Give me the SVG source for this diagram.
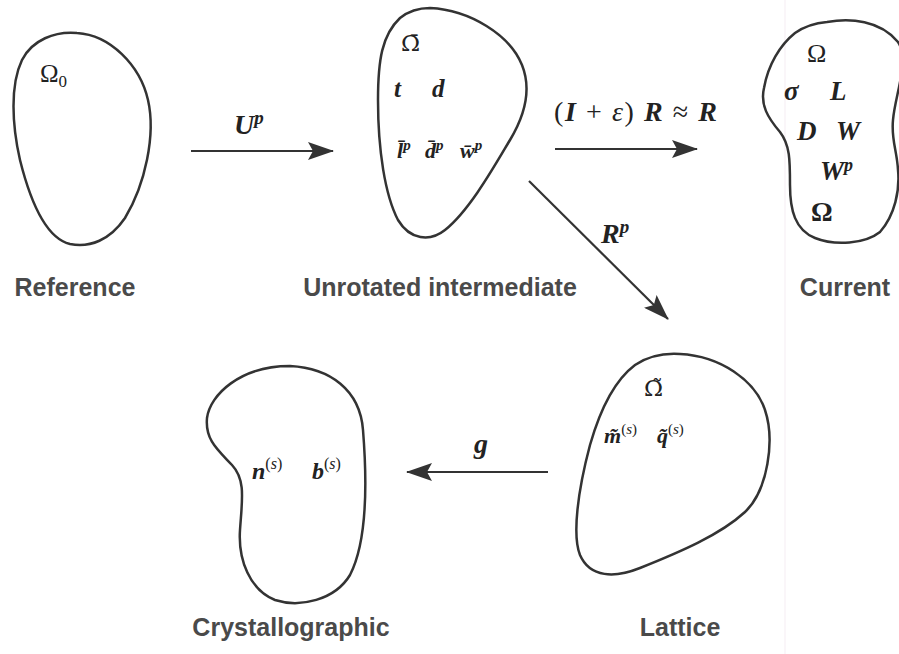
<svg xmlns="http://www.w3.org/2000/svg" width="899" height="654" viewBox="0 0 899 654">
<defs>
<marker id="ah" viewBox="0 0 26 18" refX="25" refY="9" markerWidth="26" markerHeight="18" markerUnits="userSpaceOnUse" orient="auto">
<path d="M0,0 L26,9 L0,18 L5,9 Z" fill="#333"/>
</marker>
<style>
.blob{fill:none;stroke:#333;stroke-width:2.5}
.lbl{font-family:"Liberation Sans",Arial,sans-serif;font-weight:bold;font-size:25px;fill:#4a4a4a;text-anchor:middle}
.m{font-family:"Liberation Serif","DejaVu Serif",serif;fill:#222}
.dj{font-family:"DejaVu Serif","Liberation Serif",serif;fill:#222}
.bi{font-weight:bold;font-style:italic}
.up{font-weight:normal;font-style:normal}
.conn line{stroke:#333;stroke-width:2.2;marker-end:url(#ah)}
</style>
</defs>
<rect width="899" height="654" fill="#fff"/>
<line x1="785" y1="0" x2="785" y2="654" stroke="#f8f3f7" stroke-width="1.5"/>

<g id="reference">
<path class="blob" d="M77,33 C110,35 140,65 148,100 C156,135 145,185 125,218 C110,240 90,248 70,244 C45,238 30,200 20,160 C12,125 10,85 22,60 C32,40 55,31 77,33 Z"/>
<text class="m" x="40" y="82" font-size="25">Ω<tspan font-size="17" dy="5">0</tspan></text>
<text class="lbl" x="75" y="296">Reference</text>
</g>

<g id="unrotated">
<path class="blob" d="M430,8 C470,10 510,35 522,65 C532,90 525,115 510,140 C495,165 470,210 445,230 C430,242 410,240 398,220 C385,195 378,150 378,100 C378,60 382,35 400,18 C410,10 420,8 430,8 Z"/>
<text class="dj" x="401" y="51" font-size="23">Ω̄</text>
<text class="m bi" x="394" y="97" font-size="25">t</text>
<text class="m bi" x="432" y="97" font-size="25">d</text>
<text class="m bi" x="397" y="158" font-size="22">l̄<tspan font-size="15" dy="-8">p</tspan></text>
<text class="m bi" x="425" y="158" font-size="22">d̄<tspan font-size="15" dy="-8">p</tspan></text>
<text class="m bi" x="460" y="158" font-size="22">w̄<tspan font-size="15" dy="-8">p</tspan></text>
<text class="lbl" x="440" y="296">Unrotated intermediate</text>
</g>

<g id="current">
<path class="blob" d="M827,22 C850,18 880,20 898,42 C910,60 895,95 893,120 C891,140 897,150 898,170 C900,190 895,215 880,232 C865,244 835,246 815,238 C795,230 790,210 790,185 C790,160 790,145 780,132 C768,118 760,105 764,88 C768,65 780,45 795,33 C805,26 815,23 827,22 Z"/>
<text class="m" x="807" y="62" font-size="26">Ω</text>
<text class="m bi" x="784" y="100" font-size="27">σ</text>
<text class="m bi" x="830" y="100" font-size="27">L</text>
<text class="m bi" x="797" y="140" font-size="27">D</text>
<text class="m bi" x="836" y="140" font-size="27">W</text>
<text class="m bi" x="820" y="180" font-size="27">W<tspan font-size="18" dy="-9">p</tspan></text>
<text class="m" x="811" y="221" font-size="27" font-weight="bold">Ω</text>
<text class="lbl" x="845" y="296">Current</text>
</g>

<g id="lattice">
<path class="blob" d="M680,354 C720,356 755,380 765,410 C775,440 768,490 745,512 C720,535 680,552 640,568 C615,578 590,578 580,555 C572,535 578,490 590,445 C600,410 615,380 635,365 C650,355 665,353 680,354 Z"/>
<text class="dj" x="644" y="396" font-size="23">Ω̃</text>
<text class="m bi" x="604" y="443" font-size="22">m̃<tspan class="up" font-size="15" dy="-9">(<tspan font-style="italic">s</tspan>)</tspan></text>
<text class="m bi" x="657" y="443" font-size="22">q̃<tspan class="up" font-size="15" dy="-9">(<tspan font-style="italic">s</tspan>)</tspan></text>
<text class="lbl" x="680" y="636">Lattice</text>
</g>

<g id="crystallographic">
<path class="blob" d="M290,366 C330,368 360,390 363,430 C367,480 368,540 350,575 C335,600 300,608 275,600 C250,590 238,560 240,530 C242,500 246,480 232,465 C218,450 205,440 207,418 C210,395 240,366 290,366 Z"/>
<text class="m bi" x="252" y="479" font-size="24">n<tspan class="up" font-size="16" dy="-10">(<tspan font-style="italic">s</tspan>)</tspan></text>
<text class="m bi" x="312" y="479" font-size="24">b<tspan class="up" font-size="16" dy="-10">(<tspan font-style="italic">s</tspan>)</tspan></text>
<text class="lbl" x="291" y="636">Crystallographic</text>
</g>

<g id="connectors" class="conn">
<line x1="191" y1="151" x2="333" y2="151"/>
<line x1="555" y1="149" x2="697" y2="149"/>
<line x1="529" y1="181" x2="668" y2="319"/>
<line x1="548" y1="472" x2="407" y2="472"/>
<text class="m bi" x="234" y="134" font-size="28">U<tspan font-size="19" dy="-10">p</tspan></text>
<text class="m" x="554" y="121" font-size="28" textLength="163" lengthAdjust="spacing"><tspan>(</tspan><tspan class="bi">I</tspan> + <tspan font-style="italic">ε</tspan>) <tspan class="bi">R</tspan> ≈ <tspan class="bi">R</tspan></text>
<text class="m bi" x="601" y="243" font-size="28">R<tspan font-size="19" dy="-10">p</tspan></text>
<text class="m bi" x="474" y="453" font-size="28">g</text>
</g>
</svg>
